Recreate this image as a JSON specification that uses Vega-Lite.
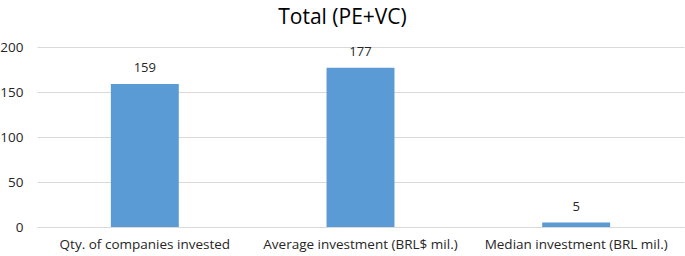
{
  "$schema": "https://vega.github.io/schema/vega-lite/v6.json",
  "autosize": "none",
  "width": 647,
  "height": 180,
  "padding": {"left": 37, "top": 47, "right": 1, "bottom": 29},
  "background": "white",
  "title": {"text": "Total (PE+VC)", "fontSize": 21, "font": "Open Sans", "fontWeight": "normal", "color": "#000000", "anchor": "middle", "dx": -18, "offset": 12},
  "data": {"values": [
    {"category": "Qty. of companies invested", "value": 159},
    {"category": "Average investment (BRL$ mil.)", "value": 177},
    {"category": "Median investment (BRL mil.)", "value": 5}
  ]},
  "encoding": {
    "x": {"field": "category", "type": "nominal", "sort": null,
      "scale": {"paddingInner": 0.685, "paddingOuter": 0.3425},
      "axis": {"title": null, "labelAngle": 0, "ticks": false, "domain": true, "domainColor": "#d9d9d9", "labelFont": "Open Sans", "labelFontSize": 13.5, "labelColor": "#262626", "labelPadding": 10, "labelLimit": 300}},
    "y": {"field": "value", "type": "quantitative",
      "scale": {"domain": [0, 200]},
      "axis": {"title": null, "values": [0, 50, 100, 150, 200], "ticks": false, "domain": false, "gridColor": "#d9d9d9", "labelFont": "Open Sans", "labelFontSize": 13.5, "labelColor": "#262626", "labelPadding": 14}}
  },
  "layer": [
    {"mark": {"type": "bar", "color": "#5b9bd5"}},
    {"mark": {"type": "text", "dy": -16, "font": "Open Sans", "fontSize": 13, "color": "#262626"}, "encoding": {"text": {"field": "value"}}}
  ],
  "config": {"view": {"stroke": null}}
}
